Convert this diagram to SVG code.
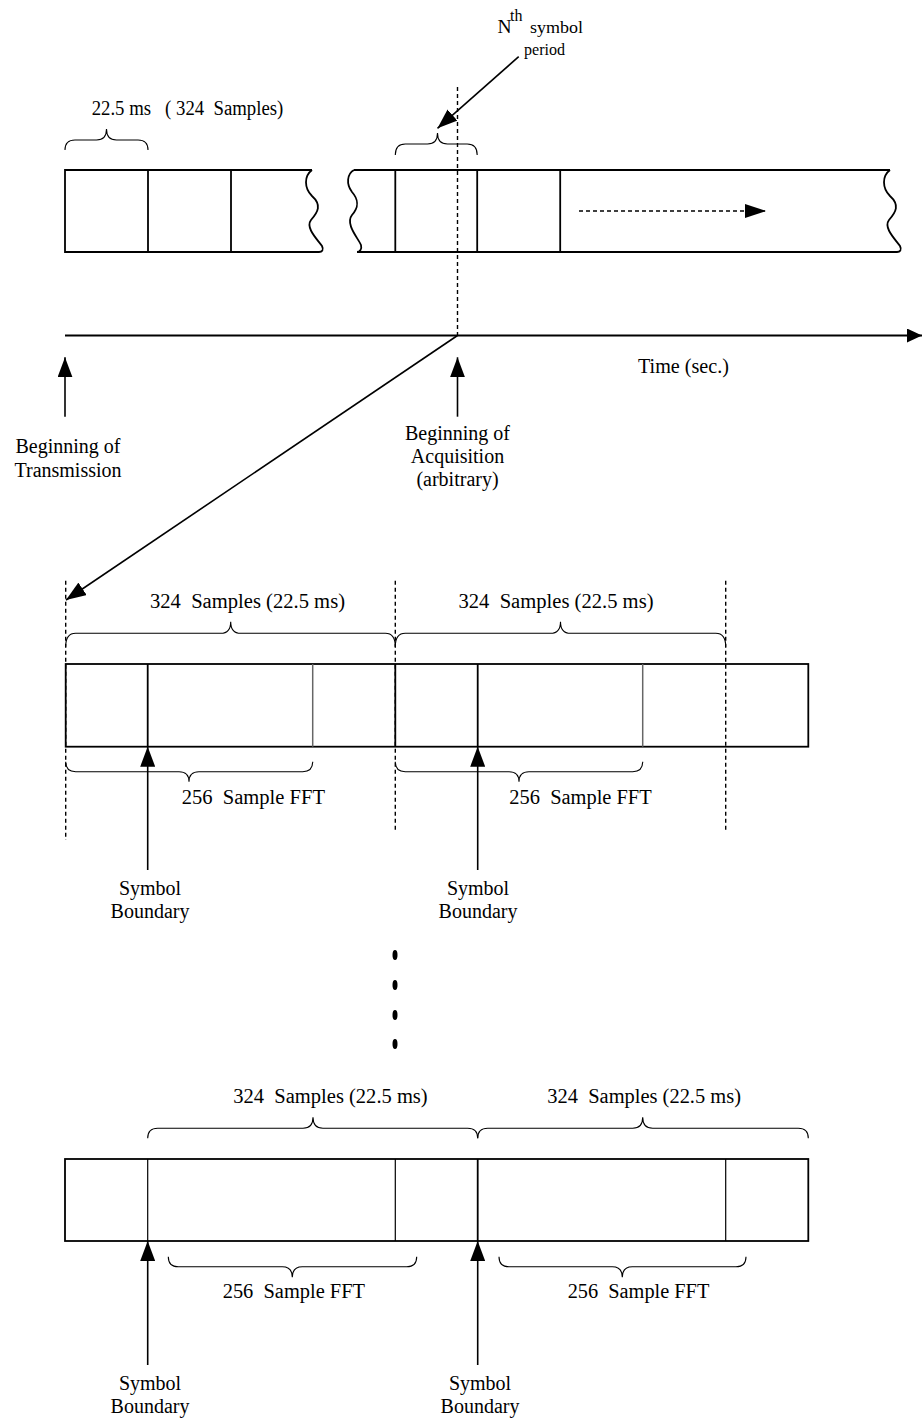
<svg xmlns="http://www.w3.org/2000/svg" width="922" height="1420" viewBox="0 0 922 1420">
<style>
text { font-family: "Liberation Serif", "Times New Roman", serif; font-size: 20px; fill: #000; }
.c { text-anchor: middle; }
.box { fill: none; stroke: #000; stroke-width: 1.8; }
.div { stroke: #000; stroke-width: 1.8; }
.thin { stroke: #000; stroke-width: 1.2; }
.gray { stroke: #666; stroke-width: 1.5; }
.brace { fill: none; stroke: #000; stroke-width: 1.1; }
.dash { stroke: #000; stroke-width: 1.4; stroke-dasharray: 4 3; fill: none; }
.arr { stroke: #000; stroke-width: 1.6; fill: none; }
</style>
<defs>
<marker id="ah" markerUnits="userSpaceOnUse" markerWidth="20" markerHeight="15" refX="20" refY="7.5" orient="auto"><path d="M0,0 L20,7.5 L0,15 Z" fill="#000"/></marker>
<marker id="ahT" markerUnits="userSpaceOnUse" markerWidth="15" markerHeight="14" refX="15" refY="7" orient="auto"><path d="M0,0 L15,7 L0,14 Z" fill="#000"/></marker>
<marker id="ahD" markerUnits="userSpaceOnUse" markerWidth="21" markerHeight="14" refX="21" refY="7" orient="auto"><path d="M0,0 L21,7 L0,14 Z" fill="#000"/></marker>
</defs>
<rect width="922" height="1420" fill="#fff"/>

<!-- top-left block -->
<g id="top-left-block">
<path class="box" d="M312,170 L65,170 L65,252 L319,252"/>
<path class="box" d="M312,170 C304,176 304,188 312,196 C322,205 318,212 311,220 C305,228 318,240 322,246 C324,250 322,252 319,252"/>
<line class="div" x1="148" y1="170" x2="148" y2="252"/>
<line class="div" x1="231" y1="170" x2="231" y2="252"/>
<path class="brace" d="M65,150 Q65,140 75,140 L96.5,140 Q106.5,140 106.5,129 Q106.5,140 116.5,140 L138,140 Q148,140 148,150"/>
<text x="91.7" y="115" xml:space="preserve" textLength="191.6" lengthAdjust="spacingAndGlyphs">22.5 ms   ( 324  Samples)</text>
</g>

<!-- top-right block -->
<g id="top-right-block">
<path class="box" d="M354,170 L890,170"/>
<path class="box" d="M357,252 L897,252"/>
<path class="box" d="M354,170 C347,174 346,184 352,192 C360,201 358,208 352,215 C345,224 358,238 361,245 C362,249 360,252 357,252"/>
<path class="box" d="M890,170 C882,176 882,188 890,196 C900,205 896,212 889,220 C883,228 896,240 900,246 C902,250 900,252 897,252"/>
<line class="div" x1="395.3" y1="170" x2="395.3" y2="252"/>
<line class="div" x1="477.2" y1="170" x2="477.2" y2="252"/>
<line class="div" x1="560.2" y1="170" x2="560.2" y2="252"/>
<path class="brace" d="M395.3,155 Q395.3,144 405.3,144 L427.5,144 Q437.5,144 437.5,133 Q437.5,144 447.5,144 L467.2,144 Q477.2,144 477.2,155"/>
</g>

<g id="nth-label">
<text x="497.5" y="32.5" style="font-size:19.5px">N</text>
<text x="510" y="21" style="font-size:16px">th</text>
<text x="530" y="33" style="font-size:17.5px" textLength="53" lengthAdjust="spacingAndGlyphs">symbol</text>
<text x="524" y="55" style="font-size:17.5px" textLength="41" lengthAdjust="spacingAndGlyphs">period</text>
</g>

<g id="time-axis">
<text x="638" y="372.7" textLength="91" lengthAdjust="spacingAndGlyphs">Time (sec.)</text>
</g>

<g id="label-transmission">
<text class="c" x="68" y="453">Beginning of</text>
<text class="c" x="68" y="476.5">Transmission</text>
</g>

<g id="label-acquisition">
<text class="c" x="457.5" y="440">Beginning of</text>
<text class="c" x="457.5" y="463">Acquisition</text>
<text class="c" x="457.5" y="486">(arbitrary)</text>
</g>

<!-- middle block -->
<g id="middle-block">
<rect class="box" x="65.7" y="664" width="742.6" height="82.7"/>
<line class="div" x1="147.7" y1="664" x2="147.7" y2="746.7"/>
<line class="gray" x1="312.7" y1="664" x2="312.7" y2="746.7"/>
<line class="div" x1="395.3" y1="664" x2="395.3" y2="746.7"/>
<line class="div" x1="477.7" y1="664" x2="477.7" y2="746.7"/>
<line class="gray" x1="642.7" y1="664" x2="642.7" y2="746.7"/>
<path class="brace" d="M65.7,646.7 Q65.7,633.3 75.7,633.3 L220.7,633.3 Q230.7,633.3 230.7,621.7 Q230.7,633.3 240.7,633.3 L385.3,633.3 Q395.3,633.3 395.3,646.7"/>
<path class="brace" d="M395.3,646.7 Q395.3,633.3 405.3,633.3 L550.5,633.3 Q560.5,633.3 560.5,621.7 Q560.5,633.3 570.5,633.3 L715.7,633.3 Q725.7,633.3 725.7,646.7"/>
<path class="brace" d="M65.7,761.7 Q65.7,771.7 75.7,771.7 L179,771.7 Q189,771.7 189,781.7 Q189,771.7 199,771.7 L302.7,771.7 Q312.7,771.7 312.7,761.7"/>
<path class="brace" d="M395.3,761.7 Q395.3,771.7 405.3,771.7 L509,771.7 Q519,771.7 519,781.7 Q519,771.7 529,771.7 L632.7,771.7 Q642.7,771.7 642.7,761.7"/>
<text x="150" y="608.3" xml:space="preserve" textLength="195" lengthAdjust="spacingAndGlyphs">324  Samples (22.5 ms)</text>
<text x="458.5" y="608.3" xml:space="preserve" textLength="195" lengthAdjust="spacingAndGlyphs">324  Samples (22.5 ms)</text>
<text x="181.7" y="804" xml:space="preserve" textLength="143.3" lengthAdjust="spacingAndGlyphs">256  Sample FFT</text>
<text x="509.3" y="804" xml:space="preserve" textLength="142.4" lengthAdjust="spacingAndGlyphs">256  Sample FFT</text>
<text class="c" x="150" y="895">Symbol</text>
<text class="c" x="150" y="918">Boundary</text>
<text class="c" x="478" y="895">Symbol</text>
<text class="c" x="478" y="918">Boundary</text>
</g>

<g id="ellipsis">
<ellipse cx="395" cy="955" rx="2.5" ry="5" fill="#000"/>
<ellipse cx="395" cy="985" rx="2.5" ry="5" fill="#000"/>
<ellipse cx="395" cy="1015" rx="2.5" ry="5" fill="#000"/>
<ellipse cx="395" cy="1044" rx="2.5" ry="5" fill="#000"/>
</g>

<!-- bottom block -->
<g id="bottom-block">
<rect class="box" x="65" y="1159" width="743.3" height="82"/>
<line class="thin" x1="147.7" y1="1159" x2="147.7" y2="1241"/>
<line class="thin" x1="395.3" y1="1159" x2="395.3" y2="1241"/>
<line class="div" x1="477.7" y1="1159" x2="477.7" y2="1241"/>
<line class="thin" x1="725.7" y1="1159" x2="725.7" y2="1241"/>
<path class="brace" d="M147.7,1138.3 Q147.7,1128.3 157.7,1128.3 L303,1128.3 Q313,1128.3 313,1117.3 Q313,1128.3 323,1128.3 L467.7,1128.3 Q477.7,1128.3 477.7,1138.3"/>
<path class="brace" d="M477.7,1138.3 Q477.7,1128.3 487.7,1128.3 L632.7,1128.3 Q642.7,1128.3 642.7,1117.3 Q642.7,1128.3 652.7,1128.3 L798.3,1128.3 Q808.3,1128.3 808.3,1138.3"/>
<path class="brace" d="M168.3,1256.7 Q168.3,1266.7 178.3,1266.7 L282.3,1266.7 Q292.3,1266.7 292.3,1277.3 Q292.3,1266.7 302.3,1266.7 L406.7,1266.7 Q416.7,1266.7 416.7,1256.7"/>
<path class="brace" d="M499,1256.7 Q499,1266.7 509,1266.7 L612.3,1266.7 Q622.3,1266.7 622.3,1277.3 Q622.3,1266.7 632.3,1266.7 L736,1266.7 Q746,1266.7 746,1256.7"/>
<text x="233.3" y="1103.3" xml:space="preserve" textLength="194.4" lengthAdjust="spacingAndGlyphs">324  Samples (22.5 ms)</text>
<text x="547.3" y="1103.3" xml:space="preserve" textLength="193.7" lengthAdjust="spacingAndGlyphs">324  Samples (22.5 ms)</text>
<text x="222.7" y="1298.3" xml:space="preserve" textLength="142.3" lengthAdjust="spacingAndGlyphs">256  Sample FFT</text>
<text x="567.7" y="1298.3" xml:space="preserve" textLength="141.6" lengthAdjust="spacingAndGlyphs">256  Sample FFT</text>
<text class="c" x="150" y="1390">Symbol</text>
<text class="c" x="150" y="1413">Boundary</text>
<text class="c" x="480" y="1390">Symbol</text>
<text class="c" x="480" y="1413">Boundary</text>
</g>

<!-- connectors -->
<g id="connectors">
<line class="dash" x1="457.5" y1="87" x2="457.5" y2="335.5"/>
<line class="dash" x1="579" y1="211" x2="766" y2="211" marker-end="url(#ahD)"/>
<line class="arr" x1="518.7" y1="56.7" x2="437.5" y2="128.3" marker-end="url(#ah)"/>
<line x1="65" y1="335.5" x2="922" y2="335.5" stroke="#000" stroke-width="2" marker-end="url(#ahT)"/>
<line class="arr" x1="65" y1="416.7" x2="65" y2="357.3" marker-end="url(#ah)"/>
<line class="arr" x1="457.5" y1="416.7" x2="457.5" y2="357.3" marker-end="url(#ah)"/>
<line class="arr" x1="457.5" y1="335.5" x2="66" y2="600" marker-end="url(#ah)"/>
<line class="dash" x1="65.7" y1="580.7" x2="65.7" y2="840"/>
<line class="dash" x1="395.3" y1="580.7" x2="395.3" y2="830"/>
<line class="dash" x1="725.7" y1="580.7" x2="725.7" y2="830"/>
<line class="arr" x1="147.7" y1="870" x2="147.7" y2="746.7" marker-end="url(#ah)"/>
<line class="arr" x1="477.7" y1="870" x2="477.7" y2="746.7" marker-end="url(#ah)"/>
<line class="arr" x1="147.7" y1="1365" x2="147.7" y2="1241" marker-end="url(#ah)"/>
<line class="arr" x1="477.7" y1="1365" x2="477.7" y2="1241" marker-end="url(#ah)"/>
</g>
</svg>
